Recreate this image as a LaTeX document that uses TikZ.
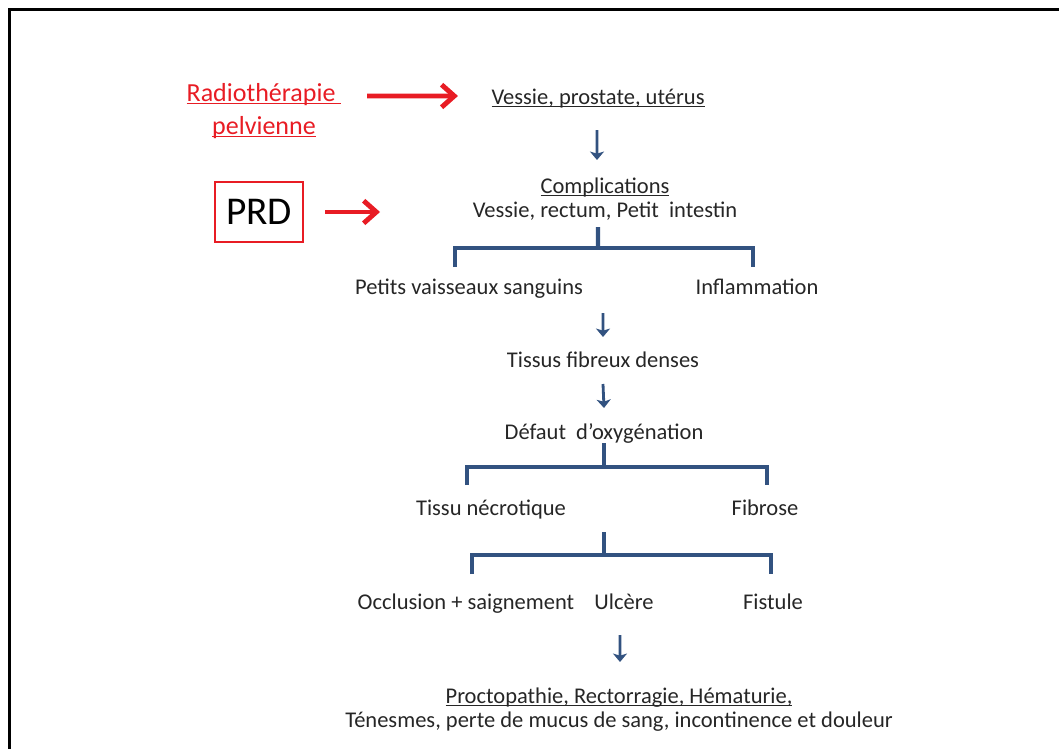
\documentclass[tikz,border=0pt]{standalone}
\usepackage{fontspec}
\setmainfont{Carlito}
\usetikzlibrary{arrows.meta}
\definecolor{flowblue}{RGB}{50,82,128}
\definecolor{flowred}{RGB}{232,28,36}
\newcommand{\undl}[1]{\setbox0\hbox{#1}\rlap{\rule[-1.8pt]{\wd0}{0.7pt}}\box0}
\tikzstyle{txt} = [font=\fontsize{16}{17}\selectfont, align=center, inner sep=1pt, text height=12pt, text depth=4pt, text=black!85]
\tikzstyle{redtxt} = [txt, font=\fontsize{18.5}{23.5}\selectfont, text=flowred]
\tikzstyle{prdbox} = [rectangle, draw=flowred, line width=1.1pt, font=\fontsize{28}{32}\selectfont, minimum width=2.2cm, minimum height=1.5cm, inner sep=0pt, text=black]
\tikzstyle{redarrow} = [line width=3.5pt, draw=flowred, -{Straight Barb[length=9pt,width=16pt]}]
\tikzstyle{bluearrow} = [line width=2pt, draw=flowblue, -{Stealth[length=6pt,width=10pt,inset=1.5pt]}]
\tikzstyle{bracket} = [line width=3pt, draw=flowblue]

\begin{document}
\begin{tikzpicture}[x=0.025cm, y=-0.025cm]
    \useasboundingbox (0,0) rectangle (1059,749);
    \draw[line width=2.1pt] (9.5,749) -- (9.5,9.5) -- (1059,9.5);

    \node (radio) [redtxt] at (264,129) {\undl{Radiothérapie }\\\undl{pelvienne}};
    \node (vpu) [txt] at (598,99) {\undl{Vessie, prostate, utérus}};
    \node (prd) [prdbox] at (259,212) {PRD};
    \node (cmp) [txt] at (605,212) {\undl{Complications}\\Vessie, rectum, Petit~ intestin};
    \node (psv) [txt] at (469,289) {Petits vaisseaux sanguins};
    \node (infl) [txt] at (757,289) {Inflammation};
    \node (tfd) [txt] at (603,362) {Tissus fibreux denses};
    \node (doxy) [txt] at (604,434) {Défaut~ d’oxygénation};
    \node (tnec) [txt] at (491,510) {Tissu nécrotique};
    \node (fib) [txt] at (765,510) {Fibrose};
    \node (occ) [txt] at (466,604) {Occlusion + saignement};
    \node (ulc) [txt] at (624,604) {Ulcère};
    \node (fist) [txt] at (773,604) {Fistule};
    \node (proc) [txt] at (619,722) {\undl{Proctopathie, Rectorragie, Hématurie,}\\Ténesmes, perte de mucus de sang, incontinence et douleur};

    % bracket corners
    \coordinate (b1) at (598,248);
    \coordinate (b1l) at (455,267);
    \coordinate (b1r) at (753,267);
    \coordinate (b2) at (604,467);
    \coordinate (b2l) at (467,485);
    \coordinate (b2r) at (767,485);
    \coordinate (b3top) at (604,532);
    \coordinate (b3) at (604,555);
    \coordinate (b3l) at (472,574);
    \coordinate (b3r) at (771,574);
    \coordinate (prdtip) at (380,212);

    \draw [redarrow] ([xshift=2.575cm,yshift=0.825cm]radio.center) -- ([xshift=-3.5cm,yshift=0.075cm]vpu.center);
    \draw [redarrow] ([xshift=1.65cm]prd.center) -- (prdtip);

    \draw [bluearrow] ([xshift=-0.025cm,yshift=-0.775cm]vpu.center) -- ([xshift=-0.2cm,yshift=1.3cm]cmp.center);
    \draw [bluearrow] ([xshift=3.35cm,yshift=-0.6cm]psv.center) -- ([yshift=0.625cm]tfd.center);
    \draw [bluearrow] ([yshift=-0.55cm]tfd.center) -- ([yshift=0.65cm]doxy.center);
    \draw [bluearrow] ([xshift=-0.1cm,yshift=-0.775cm]ulc.center) -- ([xshift=0.025cm,yshift=1.5cm]proc.center);

    \draw [bracket] ([xshift=-0.175cm,yshift=-0.375cm]cmp.center) -- (b1);
    \draw [bracket] (b1l) |- (b1) -| (b1r);
    \draw [bracket] ([yshift=-0.225cm]doxy.center) -- (b2);
    \draw [bracket] (b2l) |- (b2) -| (b2r);
    \draw [bracket] (b3top) -- (b3);
    \draw [bracket] (b3l) |- (b3) -| (b3r);
\end{tikzpicture}
\end{document}
